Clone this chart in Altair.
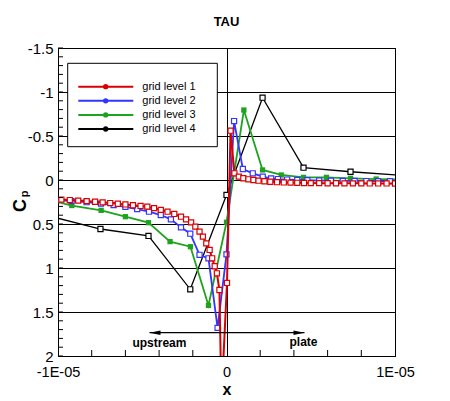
import altair as alt
import pandas as pd

# ---------------- data (x in units of 1E-05) ----------------
series_names = ["grid level 1", "grid level 2", "grid level 3", "grid level 4"]
series_colors = ["#d80000", "#3434ff", "#1ea31e", "#000000"]

red_x = [-1.03, -0.98, -0.93, -0.88, -0.83, -0.78, -0.735, -0.69, -0.645, -0.60,
         -0.555, -0.51, -0.47, -0.43, -0.39, -0.35, -0.31, -0.27, -0.24, -0.21,
         -0.185, -0.16, -0.14, -0.12, -0.10, -0.085, -0.07, -0.057, -0.042, -0.03,
         0.003, 0.024, 0.047, 0.073, 0.10, 0.13, 0.16, 0.19, 0.225, 0.26,
         0.30, 0.34, 0.38, 0.42, 0.46, 0.50, 0.55, 0.60, 0.65, 0.70,
         0.75, 0.80, 0.85, 0.90, 0.95, 1.0, 1.05]
red_cp = [0.215, 0.222, 0.228, 0.234, 0.24, 0.247, 0.254, 0.262, 0.27, 0.278,
          0.287, 0.295, 0.303, 0.32, 0.34, 0.36, 0.386, 0.417, 0.447, 0.481,
          0.53, 0.587, 0.644, 0.72, 0.795, 0.89, 0.98, 1.06, 1.25, 2.5,
          1.17, -0.56, -0.076, -0.038, -0.02, -0.008, 0.0, 0.008, 0.014, 0.02,
          0.025, 0.028, 0.03, 0.032, 0.034, 0.035, 0.036, 0.037, 0.037, 0.038,
          0.038, 0.038, 0.039, 0.039, 0.039, 0.04, 0.04]

blue_x = [-1.10, -1.01, -0.92, -0.83, -0.745, -0.67, -0.60, -0.53, -0.46, -0.39,
          -0.33, -0.27, -0.215, -0.16, -0.107, -0.053, 0.0, 0.045, 0.097, 0.156,
          0.215, 0.265, 0.305, 0.36, 0.42, 0.48, 0.55, 0.62, 0.69, 0.76,
          0.83, 0.90, 0.97, 1.05]
blue_cp = [0.218, 0.228, 0.24, 0.252, 0.268, 0.285, 0.305, 0.33, 0.36, 0.398,
           0.447, 0.538, 0.61, 0.85, 0.89, 1.68, 0.845, -0.67, -0.125, -0.076,
           -0.038, -0.019, -0.011, -0.005, 0.0, 0.003, 0.006, 0.008, 0.01, 0.011,
           0.012, 0.013, 0.013, 0.014]

green_x = [-1.10, -0.918, -0.744, -0.60, -0.463, -0.335, -0.214, -0.107, 0.0,
           0.103, 0.214, 0.325, 0.457, 0.593, 0.736, 0.888, 1.06]
green_cp = [0.205, 0.29, 0.345, 0.417, 0.485, 0.70, 0.758, 1.425, 0.48,
            -0.795, -0.114, -0.057, -0.03, -0.03, -0.019, -0.011, -0.005]

black_x = [-1.03, -0.748, -0.463, -0.215, 0.0, 0.214, 0.457, 0.736, 1.02]
black_cp = [0.42, 0.557, 0.636, 1.242, 0.17, -0.935, -0.14, -0.094, -0.055]

y_major = [-1.5, -1, -0.5, 0, 0.5, 1, 1.5, 2]
y_minor = [round(-1.5 + 0.1 * i, 1) for i in range(36)]
x_major = [-1, 0, 1]
x_minor = [-0.8, -0.6, -0.4, -0.2, 0.2, 0.4, 0.6, 0.8]

ann_text = ["upstream", "plate"]
ann_x = [-0.398, 0.457]
ann_y = [1.852, 1.84]
arrow_x1, arrow_x2, arrow_y = -0.457, 0.463, 1.735

UNIT = 1e-5

# ---------------- tables ----------------
rows = []
for name, xs, ys in zip(series_names, [red_x, blue_x, green_x, black_x],
                        [red_cp, blue_cp, green_cp, black_cp]):
    for i, (a, b) in enumerate(zip(xs, ys)):
        rows.append({"series": name, "x": a * UNIT, "cp": b, "i": i})
df = pd.DataFrame(rows)

FONT = "Liberation Sans"
xscale = alt.Scale(domain=[-1e-5, 1e-5], nice=False, zero=False)
yscale = alt.Scale(domain=[-1.5, 2], reverse=True, nice=False, zero=False)
cscale = alt.Scale(domain=series_names, range=series_colors)

x_axis = alt.Axis(values=[v * UNIT for v in x_major],
                  labelExpr="datum.value == 0 ? '0' : replace(replace(format(datum.value, '.0e'), '\u2212', '-'), 'e-', 'E-0')",
                  title="x", grid=True, gridColor="black", gridOpacity=1, gridWidth=1,
                  ticks=False, domain=False, labelFlush=False, labelPadding=9.5,
                  labelFontSize=14.5, labelColor="black", labelFont=FONT,
                  titleFontSize=16, titleFontWeight="bold", titleFont=FONT,
                  titleBaseline="alphabetic", titleY=38, titleColor="black")
y_axis = alt.Axis(values=y_major,
                  labelExpr="replace(format(datum.value, '~g'), '\u2212', '-')",
                  title="C", titleAngle=270, titleFontSize=18, titleFontWeight="bold",
                  titleFont=FONT, titleX=-33, titleY=157, titleBaseline="alphabetic",
                  titleAlign="center", titleColor="black",
                  grid=True, gridColor="black", gridOpacity=1, gridWidth=1,
                  ticks=False, domain=False, labelPadding=5, labelFontSize=15,
                  labelColor="black", labelFont=FONT, labelFlush=False)


def X(field):
    return alt.X(field, scale=xscale, axis=x_axis)


def Y(field):
    return alt.Y(field, scale=yscale, axis=y_axis)


base = alt.Chart(df)
styles = {
    "grid level 4": dict(width=1.3, filled=False),
    "grid level 3": dict(width=1.8, filled=True),
    "grid level 2": dict(width=1.8, filled=False),
    "grid level 1": dict(width=2.0, filled=False),
}
series_layers = []
for name in reversed(series_names):
    st = styles[name]
    sub = base.transform_filter(alt.datum.series == name)
    col = alt.Color("series:N", scale=cscale, legend=None)
    line = sub.mark_line(clip=True, strokeWidth=st["width"]).encode(
        x=X("x:Q"), y=Y("cp:Q"), color=col, order="i:Q")
    if st["filled"]:
        pts = sub.mark_point(clip=True, shape="square", filled=True, size=28, opacity=1).encode(
            x=X("x:Q"), y=Y("cp:Q"), color=col)
    else:
        pts = sub.mark_point(clip=True, shape="square", filled=False, fill="white", size=26,
                             strokeWidth=1.2, opacity=1).encode(
            x=X("x:Q"), y=Y("cp:Q"), color=col)
    series_layers += [line, pts]

# inward minor ticks
yt = alt.Chart(pd.DataFrame({"t": y_minor})).mark_rule(color="black", strokeWidth=1).encode(
    y=Y("t:Q"), x=alt.value(0), x2=alt.value(5))
xt = alt.Chart(pd.DataFrame({"t": [v * UNIT for v in x_minor]})).mark_rule(color="black", strokeWidth=1).encode(
    x=X("t:Q"), y=alt.value(308), y2=alt.value(302))

# annotations
arrow_df = pd.DataFrame({"x1": [arrow_x1 * UNIT], "x2": [arrow_x2 * UNIT], "y": [arrow_y]})
arrow_line = alt.Chart(arrow_df).mark_rule(color="black", strokeWidth=1.2).encode(
    x=X("x1:Q"), x2="x2:Q", y=Y("y:Q"))
head_l = alt.Chart(arrow_df).mark_point(shape="M0,0L2.2,-0.45L2.2,0.45Z", filled=True, color="black",
                                        size=100, opacity=1).encode(x=X("x1:Q"), y=Y("y:Q"))
head_r = alt.Chart(arrow_df).mark_point(shape="M0,0L-2.2,-0.45L-2.2,0.45Z", filled=True, color="black",
                                        size=100, opacity=1).encode(x=X("x2:Q"), y=Y("y:Q"))
ann_df = pd.DataFrame({"text": ann_text, "x": [v * UNIT for v in ann_x], "y": ann_y})
ann = alt.Chart(ann_df).mark_text(font=FONT, fontSize=12, fontWeight="bold", color="black",
                                  baseline="middle", align="center").encode(
    x=X("x:Q"), y=Y("y:Q"), text="text:N")

sub_p = alt.Chart(pd.DataFrame({"t": ["p"]})).mark_text(
    font=FONT, fontSize=11, fontWeight="bold", angle=270, baseline="alphabetic",
    align="center", color="black").encode(text="t:N", x=alt.value(-30), y=alt.value(146))

inner = alt.layer(*series_layers, yt, xt, arrow_line, head_l, head_r, ann, sub_p)

# legend (drawn inside the plot)
leg_df = pd.DataFrame({"series": series_names})
leg_y = alt.Y("series:N", scale=alt.Scale(type="point", domain=series_names, range=[38.7, 81], padding=0),
              axis=None)
leg_box = alt.Chart(pd.DataFrame({"a": [1]})).mark_rect(fill="white", stroke="black", strokeWidth=1).encode(
    x=alt.value(9.7), x2=alt.value(159.3), y=alt.value(15.3), y2=alt.value(98.7))
leg_line = alt.Chart(leg_df).mark_rule(strokeWidth=2).encode(
    x=alt.value(20.3), x2=alt.value(75.3), y=leg_y,
    color=alt.Color("series:N", scale=cscale, legend=None))
leg_dot = alt.Chart(leg_df).mark_point(shape="circle", filled=True, size=28, opacity=1).encode(
    x=alt.value(47.7), y=leg_y, color=alt.Color("series:N", scale=cscale, legend=None))
leg_text = alt.Chart(leg_df).mark_text(font=FONT, fontSize=11, align="left", baseline="middle",
                                       color="black").encode(
    x=alt.value(84.3), y=leg_y, text="series:N")
legend = alt.layer(leg_box, leg_line, leg_dot, leg_text)

chart = alt.layer(inner, legend).resolve_scale(y="independent").properties(
    width=337, height=308,
    title=alt.TitleParams("TAU", fontSize=13, fontWeight="bold", font=FONT, offset=12,
                          anchor="middle", color="black"),
    padding={"left": 50, "top": 40, "right": 40, "bottom": 44},
    autosize=alt.AutoSizeParams(type="none"),
    background="white",
).configure_view(stroke="black", strokeWidth=1)

chart.save("out.html", embed_options={"renderer": "svg", "actions": False})
